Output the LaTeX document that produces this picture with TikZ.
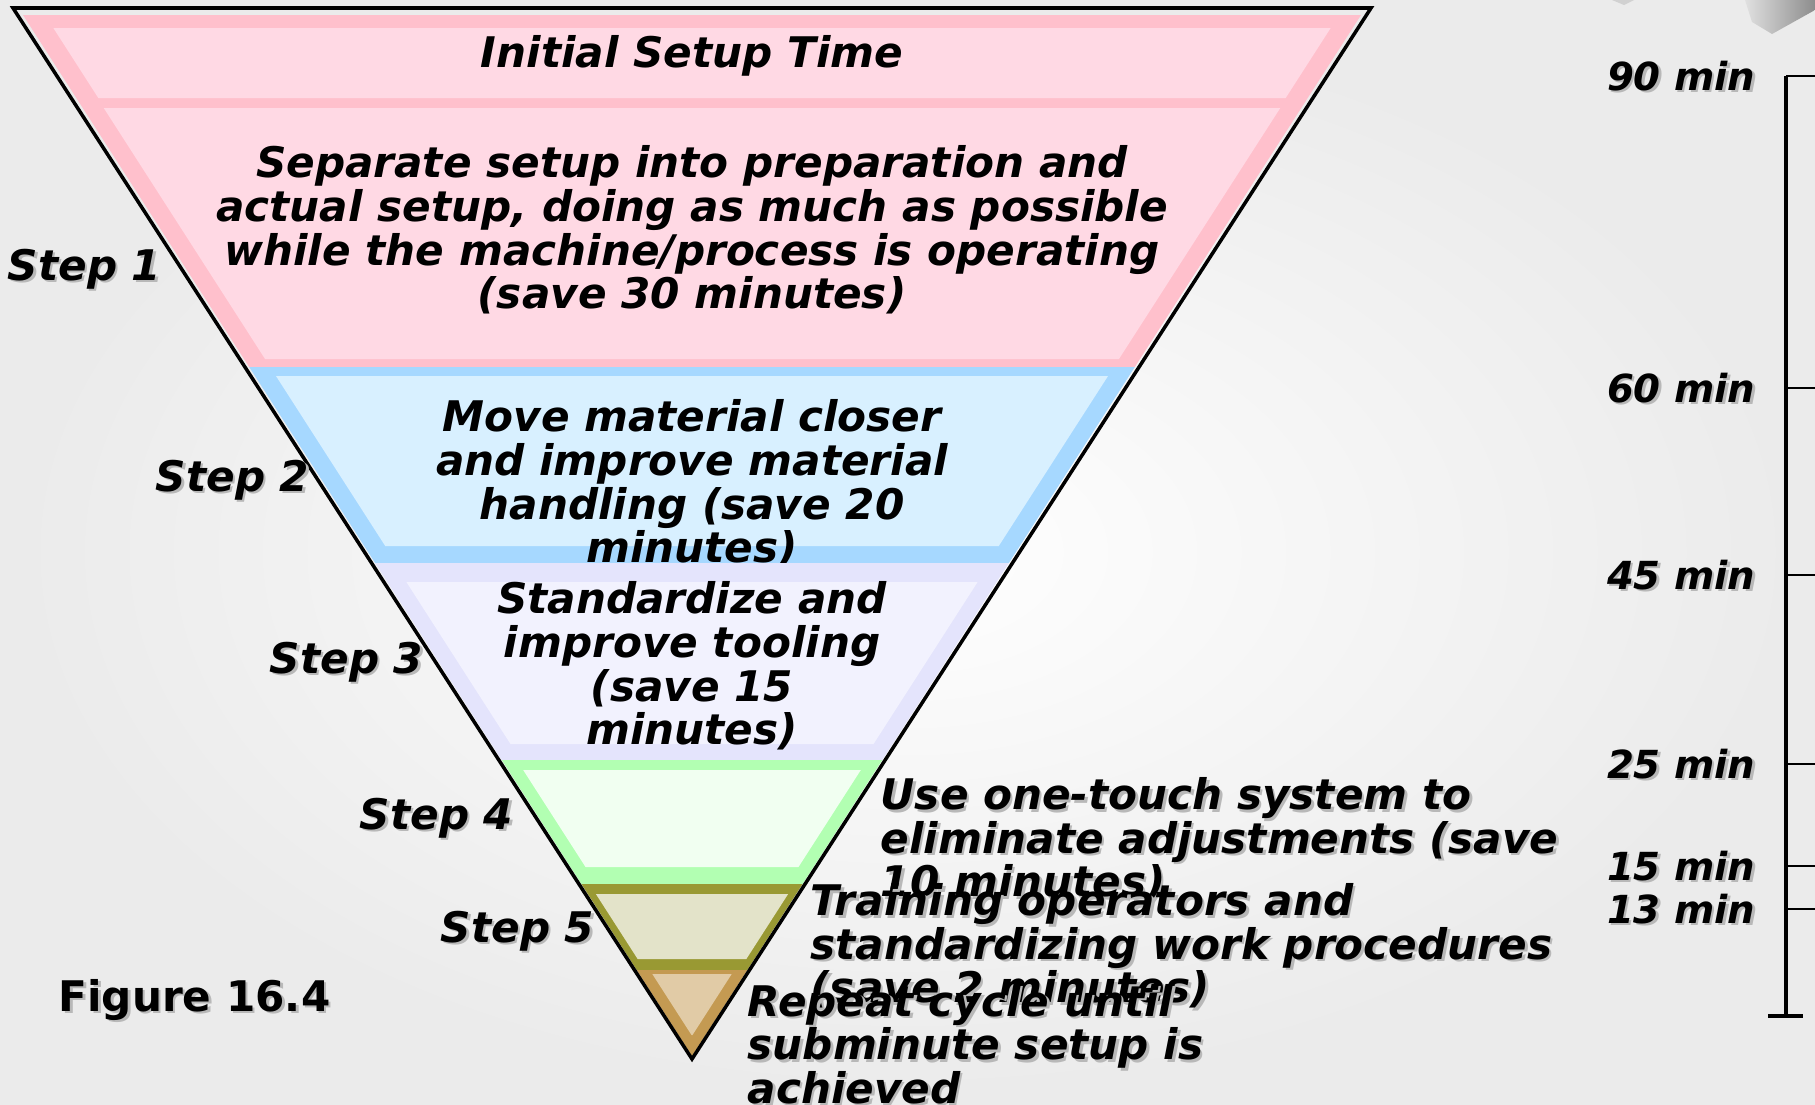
\documentclass[tikz,border=0pt]{standalone}
\usepackage{fontspec}
\setmainfont{DejaVu Sans}
\usetikzlibrary{calc}

\definecolor{pinkedge}{RGB}{255,192,204}
\definecolor{pinkfill}{RGB}{255,217,228}
\definecolor{blueedge}{RGB}{166,216,255}
\definecolor{bluefill}{RGB}{216,240,255}
\definecolor{lavedge}{RGB}{228,228,252}
\definecolor{lavfill}{RGB}{242,242,254}
\definecolor{greenedge}{RGB}{178,255,178}
\definecolor{greenfill}{RGB}{241,255,241}
\definecolor{oliveedge}{RGB}{153,153,51}
\definecolor{olivefill}{RGB}{227,227,201}
\definecolor{tanedge}{RGB}{196,154,82}
\definecolor{tanfill}{RGB}{225,203,166}

% one slice of the funnel: top, bottom, side inset, colour
\newcommand{\bandpart}[4]{%
  \pgfmathsetmacro{\wtop}{0.642651*(1056-#1)-#3}
  \pgfmathsetmacro{\wbot}{0.642651*(1056-#2)-#3}
  \fill[#4] ({692-\wtop},#1) -- ({692+\wtop},#1) -- ({692+\wbot},#2) -- ({692-\wbot},#2) -- cycle;
}
% text with a soft drop shadow
\newcommand{\castnode}[4]{%
  \node[#1, text=black!28] at ($(#3)+(2.5,2.5)$) {#4};
  \node[#1] (#2) at (#3) {#4};
}

\begin{document}
\begin{tikzpicture}[
    x=0.1mm, y=-0.1mm,
    bandtext/.style={align=center, inner sep=0pt, font=\fontsize{12}{12.4}\selectfont\bfseries\itshape},
    sidetext/.style={align=left, anchor=west, inner sep=0pt, font=\fontsize{12}{12.4}\selectfont\bfseries\itshape},
    steplabel/.style={anchor=east, inner sep=0pt, font=\fontsize{12}{12.4}\selectfont\bfseries\itshape},
    minlabel/.style={anchor=east, inner sep=0pt, font=\fontsize{11}{12}\selectfont\bfseries\itshape},
    figlabel/.style={anchor=west, inner sep=0pt, font=\fontsize{12}{12.4}\selectfont\bfseries},
    ruleline/.style={line width=1.4pt},
    tickline/.style={line width=0.7pt}
  ]
  \useasboundingbox (0,0) rectangle (1815,1104);
  \shade[inner color=white, middle color=white, outer color=black!8] (0,0) rectangle (1815,1104);
  \shade[left color=black!12, right color=black!45] (1745,0) -- (1815,0) -- (1815,10) -- (1772,34) -- (1752,22) -- cycle;
  \fill[black!18] (1612,0) -- (1634,0) -- (1624,5) -- cycle;

  % funnel slices
  \bandpart{15}{367}{0}{pinkedge}
  \bandpart{28}{98}{22}{pinkfill}
  \bandpart{108}{359}{21}{pinkfill}
  \node[bandtext] (initial) at (692,56) {Initial Setup Time};
  \node[bandtext] (task1) at (692,230) {Separate setup into preparation and\\actual setup, doing as much as possible\\while the machine/process is operating\\(save 30 minutes)};

  \bandpart{367}{563}{0}{blueedge}
  \bandpart{376}{546}{21}{bluefill}
  \node[bandtext] (task2) at (692,484) {Move material closer\\and improve material\\handling (save 20\\minutes)};

  \bandpart{563}{760}{0}{lavedge}
  \bandpart{582}{744}{19}{lavfill}
  \node[bandtext] (task3) at (692,666) {Standardize and\\improve tooling\\(save 15\\minutes)};

  \bandpart{760}{884}{0}{greenedge}
  \bandpart{770}{867}{15}{greenfill}

  \bandpart{884}{970}{0}{oliveedge}
  \bandpart{894}{959}{8}{olivefill}

  \bandpart{970}{1056}{0}{tanedge}
  \bandpart{974}{1035}{13}{tanfill}

  \draw[line width=1pt, line join=miter] (13,8) -- (1371,8) -- (692,1059) -- cycle;

  % step names
  \castnode{steplabel}{step1}{162,269}{Step 1}
  \castnode{steplabel}{step2}{310,480}{Step 2}
  \castnode{steplabel}{step3}{424,662}{Step 3}
  \castnode{steplabel}{step4}{514,818}{Step 4}
  \castnode{steplabel}{step5}{595,931}{Step 5}

  % lower steps, written beside the funnel
  \castnode{sidetext}{task4}{880,840}{Use one-touch system to\\eliminate adjustments (save\\10 minutes)}
  \castnode{sidetext}{task5}{810,946}{Training operators and\\standardizing work procedures\\(save 2 minutes)}
  \castnode{sidetext}{task6}{747,1044}{Repeat cycle until\\subminute setup is\\achieved}

  \castnode{figlabel}{fig}{58,1000}{Figure 16.4}

  % time scale
  \coordinate (ruletop) at (1786,76);
  \coordinate (rulebot) at (1786,1016);
  \draw[ruleline] (ruletop) -- (rulebot);
  \draw[ruleline] (1768,1016) -- (1803,1016);
  \foreach \yy/\tm in {76/90, 388/60, 575/45, 764/25, 866/15, 909/13} {
    \draw[tickline] (1786,\yy) -- (1815,\yy);
    \castnode{minlabel}{t\tm}{1756,\yy}{\tm\ min}
  }
\end{tikzpicture}
\end{document}
